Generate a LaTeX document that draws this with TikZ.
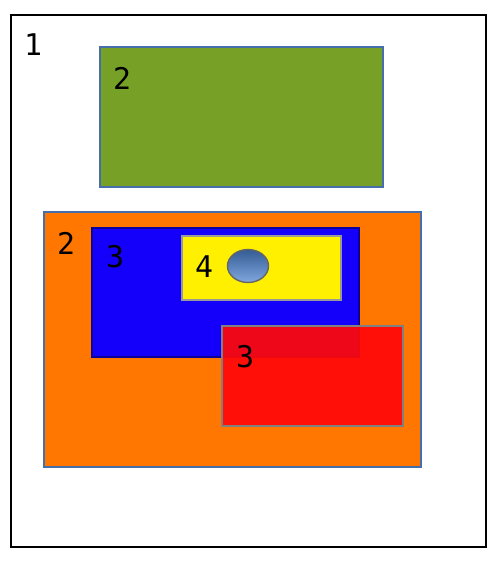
\documentclass[tikz,border=0pt]{standalone}
\usepackage{fontspec}
\setmonofont{DejaVu Sans Mono}
\definecolor{boxgreen}{RGB}{118,160,38}
\definecolor{boxorange}{RGB}{255,118,0}
\definecolor{boxblue}{RGB}{20,0,250}
\definecolor{boxyellow}{RGB}{255,240,0}
\definecolor{boxred}{RGB}{255,8,8}
\definecolor{edgeblue}{RGB}{70,110,170}
\definecolor{ballblue}{RGB}{75,130,210}
\tikzset{
  num/.style={font=\ttfamily\fontsize{17}{20}\selectfont, inner sep=0pt},
  panel/.style={draw=edgeblue, line width=0.6pt}
}
\begin{document}
\begin{tikzpicture}[x=0.02cm, y=-0.02cm]
    \useasboundingbox (0,0) rectangle (500,563);
    % outer frame
    \draw [line width=1.3pt] (11,15) rectangle (486,547);
    \node [num] (one) at (33,45) {1};
    % top green panel
    \draw [panel, fill=boxgreen] (100,47) rectangle (383,187);
    \node [num] (greenlbl) at (122,78) {2};
    % lower orange panel
    \draw [panel, fill=boxorange] (44,212) rectangle (421,467);
    \node [num] (orangelbl) at (66,243) {2};
    \draw [panel, draw=boxblue!60!black, fill=boxblue] (92,228) rectangle (359,357);
    \node [num] (bluelbl) at (115,257) {3};
    \draw [panel, draw=black!40, fill=boxyellow] (182,236) rectangle (341,300);
    \node [num] (yellowlbl) at (204,267) {4};
    \draw [draw=black!60, line width=0.8pt, top color=ballblue!70!black, bottom color=ballblue!70!white] (248,266) ellipse (20.5 and 16.5);
    \draw [panel, draw=black!50, fill=boxred, fill opacity=0.93] (222,326) rectangle (403,426);
    \node [num] (redlbl) at (245,357) {3};
  \end{tikzpicture}
\end{document}
